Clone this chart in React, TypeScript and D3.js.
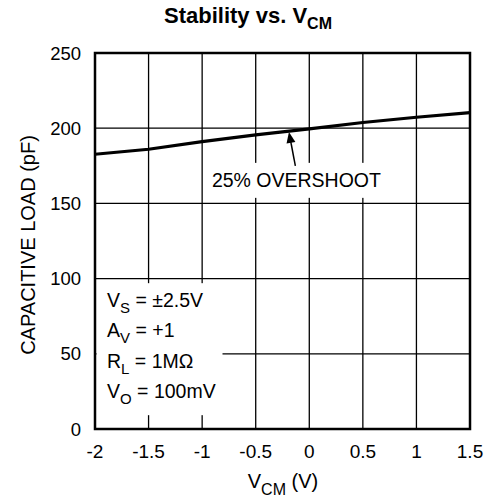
import * as d3 from "d3";

const vcm = [-2, -1.5, -1, -0.5, 0, 0.5, 1, 1.5];
const capLoad = [182.7, 186, 191.1, 195.6, 199.6, 203.8, 207.3, 210.4];
const xTicks = [-2, -1.5, -1, -0.5, 0, 0.5, 1, 1.5];
const yTicks = [0, 50, 100, 150, 200, 250];
const conditions = [
    { main: "V", sub: "S", rest: " = ±2.5V" },
    { main: "A", sub: "V", rest: " = +1" },
    { main: "R", sub: "L", rest: " = 1MΩ" },
    { main: "V", sub: "O", rest: " = 100mV" },
];

const width = 493;
const height = 504;
const marginLeft = 95;
const marginRight = 23;
const marginTop = 53;
const marginBottom = 75;
const font = "'Liberation Sans', Arial, Helvetica, sans-serif";

export default function App() {
    const x = d3.scaleLinear([-2, 1.5], [marginLeft, width - marginRight]);
    const y = d3.scaleLinear([0, 250], [height - marginBottom, marginTop]);
    const line = d3.line<number>((_d, i) => x(vcm[i]), (d) => y(d));

    // arrow from label to curve
    const ax0 = x(-0.13), ay0 = y(175);
    const ax1 = x(-0.19), ay1 = y(197.5);
    const ang = Math.atan2(ay1 - ay0, ax1 - ax0);
    const hl = 11, hw = 4.5;
    const head = [
        [ax1, ay1],
        [ax1 - hl * Math.cos(ang) + hw * Math.sin(ang), ay1 - hl * Math.sin(ang) - hw * Math.cos(ang)],
        [ax1 - hl * Math.cos(ang) - hw * Math.sin(ang), ay1 - hl * Math.sin(ang) + hw * Math.cos(ang)],
    ];

    const labelX = x(-0.12);
    const labelY = y(161);
    const condX = x(-2) + 12;
    const condY = y(81);

    return (
        <svg
            width={width}
            height={height}
            style={{ position: "absolute", left: 0, top: 0, background: "white" }}
            fontFamily={font}
        >
            <text x={248} y={23} fontSize={22} fontWeight="bold" textAnchor="middle">
                Stability vs. V<tspan fontSize={16} dy={6}>CM</tspan>
            </text>

            {/* grid */}
            <g stroke="black" strokeWidth={1.3}>
                {xTicks.slice(1, -1).map((t) => (
                    <line key={t} x1={x(t)} x2={x(t)} y1={y(0)} y2={y(250)} />
                ))}
                {yTicks.slice(1, -1).map((t) => (
                    <line key={t} x1={x(-2)} x2={x(1.5)} y1={y(t)} y2={y(t)} />
                ))}
            </g>

            {/* white boxes behind the annotations */}
            <rect x={labelX - 88} y={labelY - 24} width={176} height={35} fill="white" />
            <rect x={x(-2) + 1.5} y={condY - 24} width={126} height={132} fill="white" />

            <rect
                x={x(-2)}
                y={y(250)}
                width={x(1.5) - x(-2)}
                height={y(0) - y(250)}
                fill="none"
                stroke="black"
                strokeWidth={2.5}
            />

            <path d={line(capLoad) || ""} fill="none" stroke="black" strokeWidth={3.2} />

            <line x1={ax0} y1={ay0} x2={ax1 - 6 * Math.cos(ang)} y2={ay1 - 6 * Math.sin(ang)} stroke="black" strokeWidth={1.5} />
            <polygon points={head.map((p) => p.join(",")).join(" ")} fill="black" />

            <text x={labelX} y={labelY} fontSize={19.5} textAnchor="middle">
                25% OVERSHOOT
            </text>

            {conditions.map((c, i) => (
                <text key={i} x={condX} y={condY + i * 30.3} fontSize={19.5}>
                    {c.main}
                    <tspan fontSize={15} dy={6}>{c.sub}</tspan>
                    <tspan dy={-6}>{c.rest}</tspan>
                </text>
            ))}

            <g fontSize={19} textAnchor="middle">
                {xTicks.map((t) => (
                    <text key={t} x={x(t)} y={458}>
                        {t}
                    </text>
                ))}
            </g>
            <g fontSize={18.5} textAnchor="end">
                {yTicks.map((t) => (
                    <text key={t} x={81} y={y(t) + 6.5}>
                        {t}
                    </text>
                ))}
            </g>

            <text x={283} y={488} fontSize={20} textAnchor="middle">
                V<tspan fontSize={16} dy={7}>CM</tspan>
                <tspan dy={-7}> (V)</tspan>
            </text>
            <text
                transform={`translate(34.5,245) rotate(-90)`}
                fontSize={20}
                textAnchor="middle"
            >
                CAPACITIVE LOAD (pF)
            </text>
        </svg>
    );
}
